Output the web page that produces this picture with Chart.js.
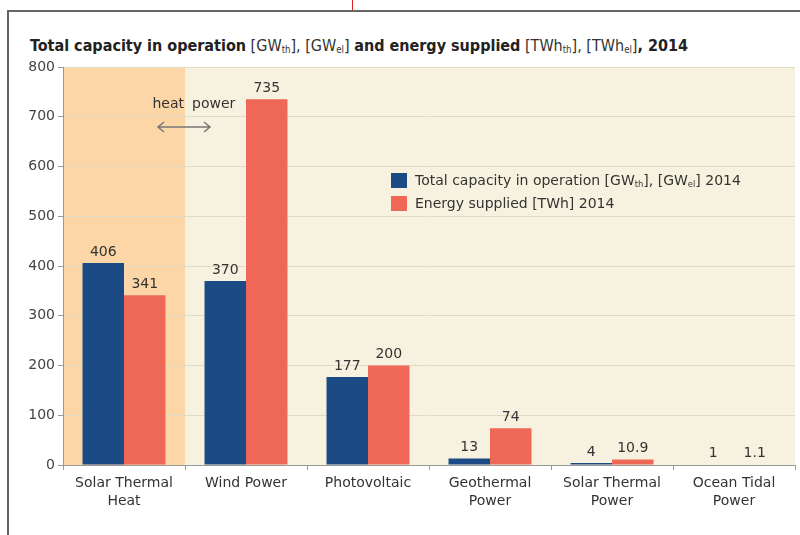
<!DOCTYPE html>
<html>
<head>
<meta charset="utf-8">
<script src="https://cdn.jsdelivr.net/npm/chart.js@4/dist/chart.umd.min.js"></script>
<style>
  html, body { margin: 0; padding: 0; background: #fff; }
  #wrap { position: relative; width: 800px; height: 535px; overflow: hidden; font-family: "DejaVu Sans", sans-serif; }
  #frame { position: absolute; left: 7px; top: 10px; width: 800px; height: 540px; border-left: 2px solid #666; border-top: 2px solid #666; }
  #redline { position: absolute; left: 352px; top: 0; width: 1px; height: 10px; background: #d22; }
  #title { position: absolute; left: 30px; top: 36px; font-size: 16px; color: #222; white-space: nowrap; font-stretch: condensed; }
  #title b { font-weight: bold; }
  #title span { color: #333; }
  sub { font-size: 60%; vertical-align: -2px; line-height: 0; }
  #legend { position: absolute; left: 391px; top: 169px; font-size: 14px; color: #333; line-height: 23px; }
  #legend .sw { display: inline-block; width: 16px; height: 15px; margin-right: 8px; vertical-align: -3px; }
  canvas { position: absolute; left: 0; top: 0; }
</style>
</head>
<body>
<div id="wrap">
  <div id="frame"></div>
  <div id="redline"></div>
  <div id="title"><b>Total capacity in operation</b> <span>[GW<sub>th</sub>], [GW<sub>el</sub>]</span> <b>and energy supplied</b> <span>[TWh<sub>th</sub>], [TWh<sub>el</sub>]</span><b>, 2014</b></div>
  <canvas id="chart" width="800" height="535"></canvas>
  <div id="legend">
    <div><span class="sw" style="background:#1b4a85"></span>Total capacity in operation [GW<sub>th</sub>], [GW<sub>el</sub>] 2014</div>
    <div><span class="sw" style="background:#ee6757"></span>Energy supplied [TWh] 2014</div>
  </div>
</div>
<script>
// Data
const categories = [["Solar Thermal", "Heat"], "Wind Power", "Photovoltaic", ["Geothermal", "Power"], ["Solar Thermal", "Power"], ["Ocean Tidal", "Power"]];
const capacity = [406, 370, 177, 13, 4, 1];
const energy = [341, 735, 200, 74, 10.9, 1.1];
const yTicks = [0, 100, 200, 300, 400, 500, 600, 700, 800];

const BLUE = "#1b4a85";
const RED = "#ee6757";

// cream plot background, orange band behind the first category
const backdrop = {
  id: "backdrop",
  beforeDraw(chart) {
    const { ctx, chartArea: a, scales: { x } } = chart;
    ctx.save();
    ctx.fillStyle = "#f7f2df";
    ctx.fillRect(a.left, a.top, a.right - a.left, a.bottom - a.top);
    const w = x.getPixelForValue(1) - x.getPixelForValue(0);
    ctx.fillStyle = "#fcd6a6";
    ctx.fillRect(a.left, a.top, x.getPixelForValue(0) + w / 2 - a.left, a.bottom - a.top);
    ctx.restore();
  }
};

// value labels above bars + heat/power note
const labels = {
  id: "labels",
  afterDatasetsDraw(chart) {
    const { ctx, scales: { x, y } } = chart;
    ctx.save();
    ctx.font = "14px 'DejaVu Sans'";
    ctx.fillStyle = "#333";
    ctx.textAlign = "center";
    ctx.textBaseline = "bottom";
    chart.data.datasets.forEach((ds, i) => {
      chart.getDatasetMeta(i).data.forEach((bar, j) => {
        ctx.fillText(String(ds.data[j]), bar.x, bar.y - 4);
      });
    });
    // heat | power note at the boundary of first category
    const bx = (x.getPixelForValue(0) + x.getPixelForValue(1)) / 2;
    ctx.textBaseline = "middle";
    ctx.textAlign = "right";
    ctx.fillText("heat", bx - 1, 104);
    ctx.textAlign = "left";
    ctx.fillText("power", bx + 7, 104);
    // double arrow
    const ay = 127, x0 = bx - 27, x1 = bx + 25;
    ctx.strokeStyle = "#777";
    ctx.lineWidth = 1.5;
    ctx.beginPath();
    ctx.moveTo(x0, ay); ctx.lineTo(x1, ay);
    ctx.moveTo(x0 + 6, ay - 5); ctx.lineTo(x0, ay); ctx.lineTo(x0 + 6, ay + 5);
    ctx.moveTo(x1 - 6, ay - 5); ctx.lineTo(x1, ay); ctx.lineTo(x1 - 6, ay + 5);
    ctx.stroke();
    ctx.restore();
  }
};

new Chart(document.getElementById("chart"), {
  type: "bar",
  data: {
    labels: categories,
    datasets: [
      { label: "Total capacity in operation 2014", data: capacity, backgroundColor: BLUE },
      { label: "Energy supplied [TWh] 2014", data: energy, backgroundColor: RED }
    ]
  },
  options: {
    responsive: false,
    animation: false,
    layout: { padding: { left: 0, top: 67, right: 5, bottom: 0 } },
    datasets: { bar: { categoryPercentage: 0.68, barPercentage: 1 } },
    plugins: { legend: { display: false }, tooltip: { enabled: false } },
    scales: {
      x: {
        afterFit(s) { s.height = 70; },
        border: { color: "#999" },
        grid: { offset: true, drawOnChartArea: false, tickLength: 5, color: "#999" },
        ticks: { color: "#333", font: { family: "DejaVu Sans", size: 14, lineHeight: 1.3 }, padding: 4 }
      },
      y: {
        min: 0, max: 800,
        afterFit(s) { s.width = 63; },
        afterBuildTicks(s) { s.ticks = yTicks.map(v => ({ value: v })); },
        border: { color: "#999" },
        grid: { color: "#e2dbc4", tickLength: 5, tickColor: "#999" },
        ticks: { color: "#444", font: { family: "DejaVu Sans", size: 14 }, padding: 3 }
      }
    }
  },
  plugins: [backdrop, labels]
});
</script>
</body>
</html>
